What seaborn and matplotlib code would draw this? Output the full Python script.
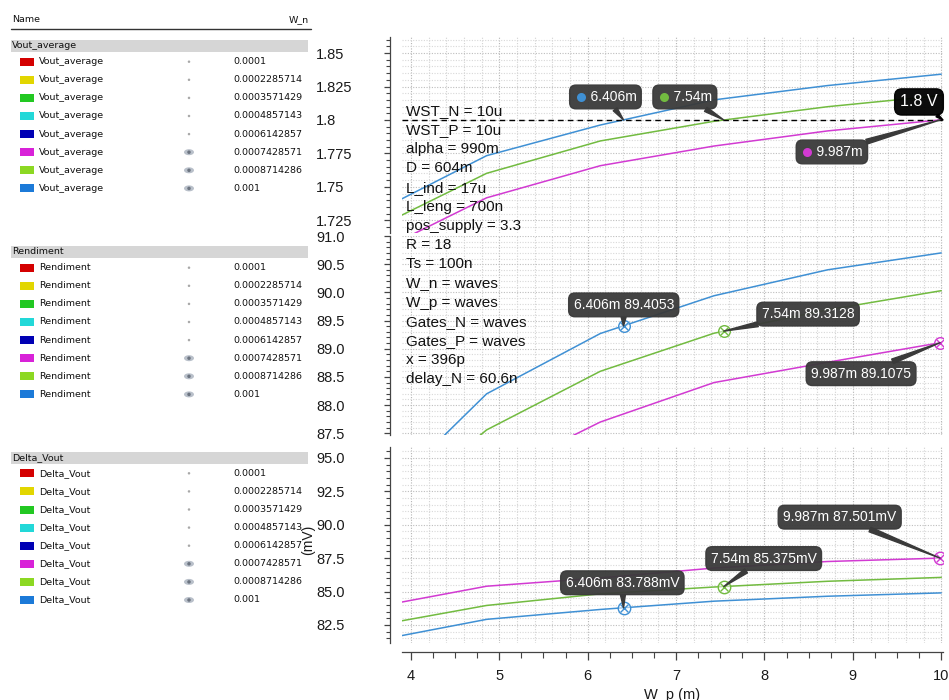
import numpy as np
import pandas as pd
import matplotlib
matplotlib.use("Agg")
import matplotlib.pyplot as plt
import matplotlib.transforms as mtransforms
import seaborn as sns
from matplotlib.patches import Rectangle, Ellipse
from matplotlib.ticker import FixedLocator, FixedFormatter, MultipleLocator

# ---------------- data ----------------
w_p = [3.571, 4.857, 6.143, 7.429, 8.714, 10.0]

w_n_labels = ["0.0001", "0.0002285714", "0.0003571429", "0.0004857143",
              "0.0006142857", "0.0007428571", "0.0008714286", "0.001"]
swatch_colors = ["#d40000", "#e2d600", "#22c822", "#22d8d8", "#0000b4",
                 "#d822d8", "#8cd822", "#1c7ad8"]
visible_flags = [False, False, False, False, False, True, True, True]
section_names = ["Vout_average", "Rendiment", "Delta_Vout"]

shown_wn = ["0.0007428571", "0.0008714286", "0.001"]
line_colors = ["#d23ad2", "#72bb40", "#3f90d4"]

vout_magenta = [1.6998, 1.7418, 1.7658, 1.7805, 1.7918, 1.8001]
vout_green = [1.7182, 1.7601, 1.7843, 1.7990, 1.8099, 1.8183]
vout_blue = [1.7300, 1.7733, 1.7962, 1.8150, 1.8257, 1.8342]

rend_magenta = [85.50, 86.70, 87.70, 88.40, 88.76, 89.11]
rend_green = [85.90, 87.56, 88.60, 89.275, 89.69, 90.03]
rend_blue = [86.22, 88.20, 89.27, 89.94, 90.40, 90.70]

dv_magenta = [83.81, 85.40, 86.02, 86.76, 87.25, 87.505]
dv_green = [82.42, 83.96, 84.83, 85.34, 85.77, 86.06]
dv_blue = [81.29, 82.92, 83.66, 84.28, 84.65, 84.90]

marker_x = [6.406, 7.54, 9.987]          # blue, green, magenta
marker_wn = ["0.001", "0.0008714286", "0.0007428571"]
cross_level = 1.8
rend_marker = [89.4053, 89.3128, 89.1075]
dv_marker = [83.788, 85.375, 87.501]

vout_ticks = [1.85, 1.825, 1.8, 1.775, 1.75, 1.725]
vout_ticklabels = ["1.85", "1.825", "1.8", "1.775", "1.75", "1.725"]
rend_ticks = [91.0, 90.5, 90.0, 89.5, 89.0, 88.5, 88.0, 87.5]
rend_ticklabels = ["91.0", "90.5", "90.0", "89.5", "89.0", "88.5", "88.0", "87.5"]
dv_ticks = [95.0, 92.5, 90.0, 87.5, 85.0, 82.5]
dv_ticklabels = ["95.0", "92.5", "90.0", "87.5", "85.0", "82.5"]
x_ticks = [4, 5, 6, 7, 8, 9, 10]
x_ticklabels = ["4", "5", "6", "7", "8", "9", "10"]

param_lines = ["WST_N = 10u", "WST_P = 10u", "alpha = 990m", "D = 604m",
               "L_ind = 17u", "L_leng = 700n", "pos_supply = 3.3", "R = 18",
               "Ts = 100n", "W_n = waves", "W_p = waves", "Gates_N = waves",
               "Gates_P = waves", "x = 396p", "delay_N = 60.6n"]

# ---------------- style ----------------
sns.set_theme(style="white")
plt.rcParams["font.family"] = ["Liberation Sans", "DejaVu Sans"]
plt.rcParams["axes.facecolor"] = "white"
plt.rcParams["figure.facecolor"] = "white"

W, H = 949, 700
fig = plt.figure(figsize=(W / 100, H / 100), dpi=100)


def rect(x0, y0, x1, y1):
    return [x0 / W, 1 - y1 / H, (x1 - x0) / W, (y1 - y0) / H]


def fx(px):
    return px / W


def fy(py):
    return 1 - py / H


ax1 = fig.add_axes(rect(402, 37, 943, 233))
ax2 = fig.add_axes(rect(402, 236, 943, 435))
ax3 = fig.add_axes(rect(402, 447, 943, 643))

palette = dict(zip(shown_wn, line_colors))


def long_df(m, g, b):
    rows = []
    for wn, vals in zip(shown_wn, [m, g, b]):
        for x, v in zip(w_p, vals):
            rows.append({"W_p": x, "val": v, "W_n": wn})
    return pd.DataFrame(rows)


panels = [
    (ax1, long_df(vout_magenta, vout_green, vout_blue), (1.7155, 1.862), vout_ticks, vout_ticklabels, 0.005, 0.025),
    (ax2, long_df(rend_magenta, rend_green, rend_blue), (87.47, 91.0), rend_ticks, rend_ticklabels, 0.1, 0.5),
    (ax3, long_df(dv_magenta, dv_green, dv_blue), (81.15, 95.82), dv_ticks, dv_ticklabels, 0.5, 2.5),
]

XLIM = (3.9, 10.02)
for ax, df, ylim, ticks, labels, yminor, ymajor in panels:
    sns.lineplot(data=df, x="W_p", y="val", hue="W_n", palette=palette,
                 legend=False, ax=ax, lw=1.1, sort=False, zorder=3)
    ax.set_xlim(*XLIM)
    ax.set_ylim(*ylim)
    ax.set_xlabel("")
    ax.set_ylabel("")
    # dotted mesh grid
    xs = np.round(np.arange(3.8, 10.21, 0.2), 3)
    for xv in xs:
        major = abs(xv - round(xv)) < 1e-6
        ax.axvline(xv, color="#b4b4b4" if major else "#d2d2d2", lw=0.8,
                   ls=(0, (1, 1.4)), zorder=0.5)
    ys = np.arange(np.floor(ylim[0] / yminor) * yminor, ylim[1] + yminor, yminor)
    for yv in ys:
        major = abs(yv / ymajor - round(yv / ymajor)) < 1e-6
        ax.axhline(yv, color="#bdbdbd" if major else "#d8d8d8", lw=0.8,
                   ls=(0, (1, 1.4)), zorder=0.5)
    for s in ["top", "right"]:
        ax.spines[s].set_visible(False)
    ax.spines["left"].set_position(("outward", 8.6))
    ax.spines["left"].set_color("#444444")
    ax.spines["left"].set_linewidth(0.9)
    ax.yaxis.set_major_locator(FixedLocator(ticks))
    ax.yaxis.set_major_formatter(FixedFormatter(labels))
    ax.yaxis.set_minor_locator(MultipleLocator(yminor))
    ax.tick_params(axis="y", which="major", direction="out", length=4.3,
                   width=0.9, pad=49, labelsize=10.5, colors="#444444",
                   labelcolor="#1a1a1a", left=True)
    ax.tick_params(axis="y", which="minor", direction="out", length=2.6,
                   width=0.8, colors="#444444", left=True)
    for lbl in ax.get_yticklabels():
        lbl.set_horizontalalignment("left")

for ax in (ax1, ax2):
    ax.spines["bottom"].set_visible(False)
    ax.tick_params(axis="x", which="both", bottom=False, labelbottom=False)

ax3.spines["bottom"].set_position(("outward", 6.5))
ax3.spines["bottom"].set_color("#444444")
ax3.spines["bottom"].set_linewidth(0.9)
ax3.xaxis.set_major_locator(FixedLocator(x_ticks))
ax3.xaxis.set_major_formatter(FixedFormatter(x_ticklabels))
ax3.xaxis.set_minor_locator(MultipleLocator(0.25))
ax3.tick_params(axis="x", which="major", direction="out", length=5.5,
                width=0.9, pad=7, labelsize=10.5, colors="#444444",
                labelcolor="#1a1a1a", bottom=True)
ax3.tick_params(axis="x", which="minor", direction="out", length=4.5,
                width=0.8, colors="#444444", bottom=True)
ax3.set_xlabel("W_p (m)", fontsize=10.5, color="#1a1a1a", labelpad=3)
ax3.set_ylabel("(mV)", fontsize=10, color="#1a1a1a")
ax3.yaxis.set_label_coords((315 - 402) / 541, (643 - 540) / 196)

# ---------------- horizontal marker 1.8 V ----------------
ax1.axhline(cross_level, color="black", lw=1.0, ls=(0, (4, 3)), zorder=4)

BOX = "#3a3a3a"
TXT = 10


def callout(ax, x, y, text, dx, dy, fc=BOX, fontsize=TXT, xycoords="data",
            ha="left", tail=0.35):
    ax.annotate(text, xy=(x, y), xycoords=xycoords, xytext=(dx, dy),
                textcoords="offset pixels", ha=ha, va="center",
                color="white", fontsize=fontsize, zorder=10,
                annotation_clip=False,
                bbox=dict(boxstyle="round,pad=0.35,rounding_size=0.45",
                          fc=fc, ec=fc, alpha=0.95),
                arrowprops=dict(arrowstyle="wedge,tail_width=%.2f" % tail,
                                fc=fc, ec=fc, shrinkA=0, shrinkB=0))


def dot(ax, x, y, dx, dy, color):
    tr = mtransforms.offset_copy(ax.transData, fig=fig, x=dx, y=dy, units="dots")
    ax.plot([x], [y], marker="o", ms=6.5, color=color, mec="none",
            transform=tr, zorder=12, clip_on=False)


col = {wn: c for wn, c in palette.items()}

# top panel crossing labels
top_offsets = [(-49, 23), (-66, 23), (-139, -32)]
for xv, wn, (dx, dy) in zip(marker_x, marker_wn, top_offsets):
    callout(ax1, xv, cross_level, "    %gm" % xv, dx, dy)
    dot(ax1, xv, cross_level, dx + 6, dy, col[wn])

callout(ax1, 1.0, cross_level, "1.8 V", -24, 18, fc="black", fontsize=11.5,
        xycoords=("axes fraction", "data"), ha="center", tail=0.2)

# middle panel markers + labels
mid_offsets = [(-50, 21), (38, 17), (-129, -31)]
for xv, yv, wn, (dx, dy) in zip(marker_x, rend_marker, marker_wn, mid_offsets):
    ax2.scatter([xv], [yv], s=70, facecolor=(1, 1, 1, 0.5), edgecolor=col[wn],
                lw=1.0, zorder=6)
    ax2.scatter([xv], [yv], s=28, marker="x", color=col[wn], lw=1.0, zorder=7)
    callout(ax2, xv, yv, "%gm %g" % (xv, yv), dx, dy)

# bottom panel markers + labels
bot_offsets = [(-58, 25), (-13, 28), (-157, 41)]
for xv, yv, wn, (dx, dy) in zip(marker_x, dv_marker, marker_wn, bot_offsets):
    ax3.scatter([xv], [yv], s=80, facecolor=(1, 1, 1, 0.5), edgecolor=col[wn],
                lw=1.0, zorder=6)
    ax3.scatter([xv], [yv], s=32, marker="x", color=col[wn], lw=1.0, zorder=7)
    callout(ax3, xv, yv, "%gm %.3fmV" % (xv, yv), dx, dy)

# parameter text block
for i, line in enumerate(param_lines):
    fig.text(fx(406), fy(111 + i * 19.15), line, fontsize=11, color="#111111",
             va="center", ha="left", zorder=20)

# ---------------- left legend table ----------------
LF = dict(fontfamily="DejaVu Sans", fontsize=6.8, color="#111111", va="center")
fig.text(fx(12), fy(19.5), "Name", ha="left", **LF)
fig.text(fx(309), fy(19.5), "W_n", ha="right", **LF)
fig.add_artist(plt.Line2D([fx(11), fx(311)], [fy(29.3), fy(29.3)],
                          color="#333333", lw=1.0, transform=fig.transFigure))

bar_tops = [40, 245.5, 451.7]
row_starts = [61.7, 267.7, 473.3]
ROW = 18.1
for name, btop, r0 in zip(section_names, bar_tops, row_starts):
    fig.add_artist(Rectangle((fx(11), fy(btop + 12)), (308 - 11) / W, 12 / H,
                             transform=fig.transFigure, fc="#d6d6d6", ec="none"))
    fig.text(fx(12), fy(btop + 6), name, ha="left", **LF)
    for i, (wn, c, vis) in enumerate(zip(w_n_labels, swatch_colors, visible_flags)):
        yc = r0 + i * ROW
        fig.add_artist(Rectangle((fx(20), fy(yc + 4)), 14 / W, 8 / H,
                                 transform=fig.transFigure, fc=c, ec="none"))
        fig.text(fx(39), fy(yc), name, ha="left", **LF)
        if vis:
            fig.add_artist(Ellipse((fx(189), fy(yc)), 10 / W, 6 / H,
                                   transform=fig.transFigure, fc="#b9c0ca", ec="none"))
            fig.add_artist(Ellipse((fx(189), fy(yc)), 3.5 / W, 3.5 / H,
                                   transform=fig.transFigure, fc="#6c7480", ec="none"))
        else:
            fig.add_artist(Ellipse((fx(189), fy(yc)), 2.5 / W, 2.5 / H,
                                   transform=fig.transFigure, fc="#a8a8a8", ec="none"))
        fig.text(fx(233), fy(yc), wn, ha="left", **LF)

fig.savefig("out.png", dpi=100)
